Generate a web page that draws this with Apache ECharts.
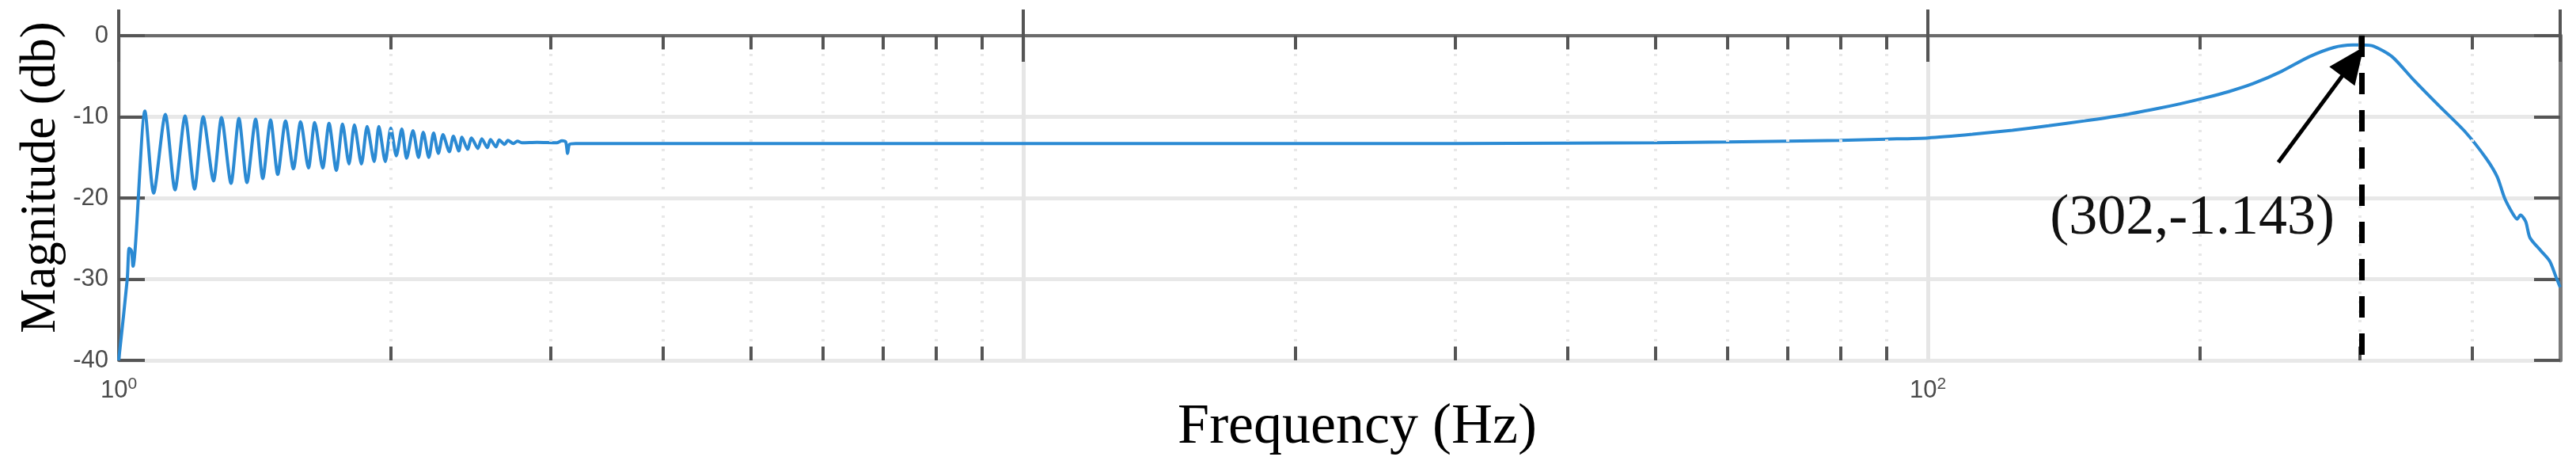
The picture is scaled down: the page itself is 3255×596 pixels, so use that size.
<!DOCTYPE html>
<html>
<head>
<meta charset="utf-8">
<title>Magnitude response</title>
<script src="https://cdn.jsdelivr.net/npm/echarts@6/dist/echarts.min.js"></script>
<style>
  html, body { margin: 0; padding: 0; background: #fff; }
  #chart { width: 3255px; height: 596px; }
</style>
</head>
<body>
<div id="chart"></div>
<script>
  // start of the sweep, below 1.07 Hz
  var riseFreq = [1.0, 1.022, 1.027, 1.033, 1.037]
  var riseMag = [-40, -30, -26.2, -26.5, -28.4]

  // ripple: alternating peak / trough
  var rippleFreq = [
    1.069, 1.093, 1.126, 1.154, 1.184, 1.213, 1.240, 1.273, 1.299, 1.331,
    1.358, 1.386, 1.417, 1.443, 1.472, 1.499, 1.529, 1.560, 1.589, 1.621,
    1.647, 1.681, 1.708, 1.740, 1.768, 1.797, 1.822, 1.855, 1.882, 1.916,
    1.939, 1.971, 1.999, 2.027, 2.056, 2.081, 2.115, 2.145, 2.171, 2.202,
    2.229, 2.256, 2.283, 2.320, 2.344, 2.377, 2.396, 2.430, 2.455, 2.495,
    2.520, 2.556, 2.576, 2.613, 2.634, 2.671, 2.693, 2.731, 2.759, 2.793
  ]
  var rippleMag = [
    -9.3, -19.4, -9.7, -19.0, -9.9, -18.9, -10.0, -17.9, -10.1, -18.2,
    -10.2, -18.1, -10.3, -17.6, -10.4, -17.1, -10.5, -16.4, -10.6, -16.3,
    -10.7, -16.3, -10.8, -16.6, -10.9, -15.8, -11.0, -15.8, -11.2, -15.5,
    -11.2, -15.5, -11.4, -14.8, -11.5, -15.1, -11.7, -15.0, -11.9, -15.0,
    -12.0, -14.5, -12.2, -14.3, -12.4, -14.2, -12.5, -14.0, -12.6, -13.9,
    -12.7, -13.8, -12.8, -13.7, -12.85, -13.4, -12.9, -13.3, -13.0, -13.2
  ]

  // flat part with the small notch near 3.1 Hz
  var flatFreq = [2.9, 3.05, 3.09, 3.12, 3.135, 3.15, 3.2, 5, 10, 20, 30, 40, 50, 60, 70, 80, 90]
  var flatMag = [-13.15, -13.2, -12.95, -13.1, -14.5, -13.4, -13.3, -13.3, -13.3, -13.3, -13.3, -13.25, -13.2, -13.1, -13.0, -12.9, -12.75]

  // resonance peak and roll-off
  var peakFreq = [100, 112, 124, 136, 149, 164, 179, 190, 202, 215, 229, 246, 264, 281, 295, 302, 311, 326, 344, 367, 393, 414, 426, 434, 443, 448, 452, 458, 463, 476, 487, 495, 500]
  var peakMag = [-12.6, -12.15, -11.65, -11.1, -10.5, -9.8, -9.0, -8.4, -7.7, -6.9, -5.9, -4.4, -2.6, -1.46, -1.15, -1.143, -1.3, -2.6, -5.4, -8.6, -11.9, -15.1, -17.4, -20.0, -21.9, -22.6, -22.1, -22.9, -24.9, -26.5, -27.8, -29.8, -31.0]

  var minorFreqs = [2, 3, 4, 5, 6, 7, 8, 9, 20, 30, 40, 50, 60, 70, 80, 90, 200, 300, 400]
  var xTickLabels = { 1: '{a|10}{b|0}', 10: '', 100: '{a|10}{b|2}' }
  var peakPoint = [302, -1.143]
  var arrowTail = [244, -15.6]
  var arrowHead = [295, -3.2]
  var labelPos = [196, -22.5]

  function pairs(xs, ys) {
    return xs.map(function (x, i) { return [x, ys[i]] })
  }
  var curve = [].concat(
    pairs(riseFreq, riseMag),
    pairs(rippleFreq, rippleMag),
    pairs(flatFreq, flatMag),
    pairs(peakFreq, peakMag)
  )

  var frame = { lineStyle: { color: '#6b6b6b', width: 4 } }
  var tick = { inside: true, length: 33, lineStyle: { color: '#555', width: 4 } }
  var tickFont = { fontFamily: 'Liberation Sans', fontSize: 31, color: '#4a4a4a' }

  var minorTicks = []
  minorFreqs.forEach(function (f) {
    minorTicks.push([{ coord: [f, -40] }, { coord: [f, -38.3] }])
    minorTicks.push([{ coord: [f, 0] }, { coord: [f, -1.7] }])
  })

  var chart = echarts.init(document.getElementById('chart'))
  chart.setOption({
    animation: false,
    backgroundColor: '#fff',
    grid: { left: 150, right: 20, top: 45, bottom: 141 },
    xAxis: [{
      type: 'log',
      logBase: 10,
      min: 1,
      max: 500,
      axisLine: frame,
      axisTick: tick,
      axisLabel: {
        margin: 20,
        formatter: function (v) {
          var k = Math.round(v)
          return xTickLabels[k] !== undefined ? xTickLabels[k] : ''
        },
        rich: {
          a: tickFont,
          b: { fontFamily: 'Liberation Sans', fontSize: 21, color: '#4a4a4a', padding: [0, 0, 16, 0] }
        }
      },
      splitLine: { show: true, lineStyle: { color: '#e6e6e6', width: 5 } }
    }, {
      type: 'log',
      logBase: 10,
      position: 'top',
      min: 1,
      max: 500,
      axisLine: frame,
      axisTick: tick,
      axisLabel: { show: false },
      splitLine: { show: false }
    }],
    yAxis: [{
      type: 'value',
      min: -40,
      max: 0,
      interval: 10,
      axisLine: { show: true, lineStyle: { color: '#5e5e5e', width: 4 } },
      axisTick: tick,
      axisLabel: Object.assign({ margin: 13 }, tickFont),
      splitLine: { show: true, lineStyle: { color: '#e8e8e8', width: 5 } }
    }, {
      type: 'value',
      position: 'right',
      min: -40,
      max: 0,
      interval: 10,
      axisLine: { show: true, lineStyle: { color: '#7a7a7a', width: 5 } },
      axisTick: tick,
      axisLabel: { show: false },
      splitLine: { show: false }
    }],
    graphic: [{
      type: 'text',
      x: 52,
      y: 224,
      rotation: Math.PI / 2,
      style: {
        text: 'Magnitude (db)',
        font: '63px "Liberation Serif"',
        fill: '#000',
        align: 'center',
        verticalAlign: 'middle'
      }
    }, {
      type: 'text',
      x: 1715,
      y: 540,
      style: {
        text: 'Frequency (Hz)',
        font: '72px "Liberation Serif"',
        fill: '#000',
        align: 'center',
        verticalAlign: 'middle'
      }
    }],
    series: [{
      // minor grid (dotted) and minor ticks on the log axis
      type: 'line',
      data: [],
      z: 1,
      silent: true,
      markLine: {
        silent: true,
        symbol: 'none',
        label: { show: false },
        lineStyle: { color: '#e8e8e8', width: 4, type: [3, 9] },
        data: minorFreqs.map(function (f) { return { xAxis: f } })
      }
    }, {
      type: 'line',
      data: [],
      z: 2,
      silent: true,
      markLine: {
        silent: true,
        symbol: 'none',
        label: { show: false },
        lineStyle: { color: '#555', width: 4, type: 'solid' },
        data: minorTicks
      }
    }, {
      name: 'Magnitude',
      type: 'line',
      data: curve,
      z: 3,
      smooth: 0.25,
      showSymbol: false,
      symbol: 'none',
      lineStyle: { color: '#2b8ad3', width: 4 },
      emphasis: { disabled: true }
    }, {
      // peak marker, arrow and its label
      type: 'line',
      data: [],
      z: 4,
      silent: true,
      markLine: {
        silent: true,
        label: { show: false },
        data: [
          [
            { coord: [peakPoint[0], 0], symbol: 'none', lineStyle: { color: '#000', width: 7, type: [27, 20] } },
            { coord: [peakPoint[0], -40], symbol: 'none' }
          ],
          [
            { coord: arrowTail, symbol: 'none', lineStyle: { color: '#000', width: 5, type: 'solid' } },
            { coord: arrowHead, symbol: 'triangle', symbolSize: [40, 46] }
          ]
        ]
      },
      markPoint: {
        silent: true,
        symbol: 'circle',
        symbolSize: 0,
        label: {
          show: true,
          position: 'inside',
          formatter: '(' + peakPoint[0] + ',' + peakPoint[1] + ')',
          fontFamily: 'Liberation Serif',
          fontSize: 72,
          color: '#111'
        },
        data: [{ coord: labelPos }]
      }
    }]
  })
</script>
</body>
</html>
